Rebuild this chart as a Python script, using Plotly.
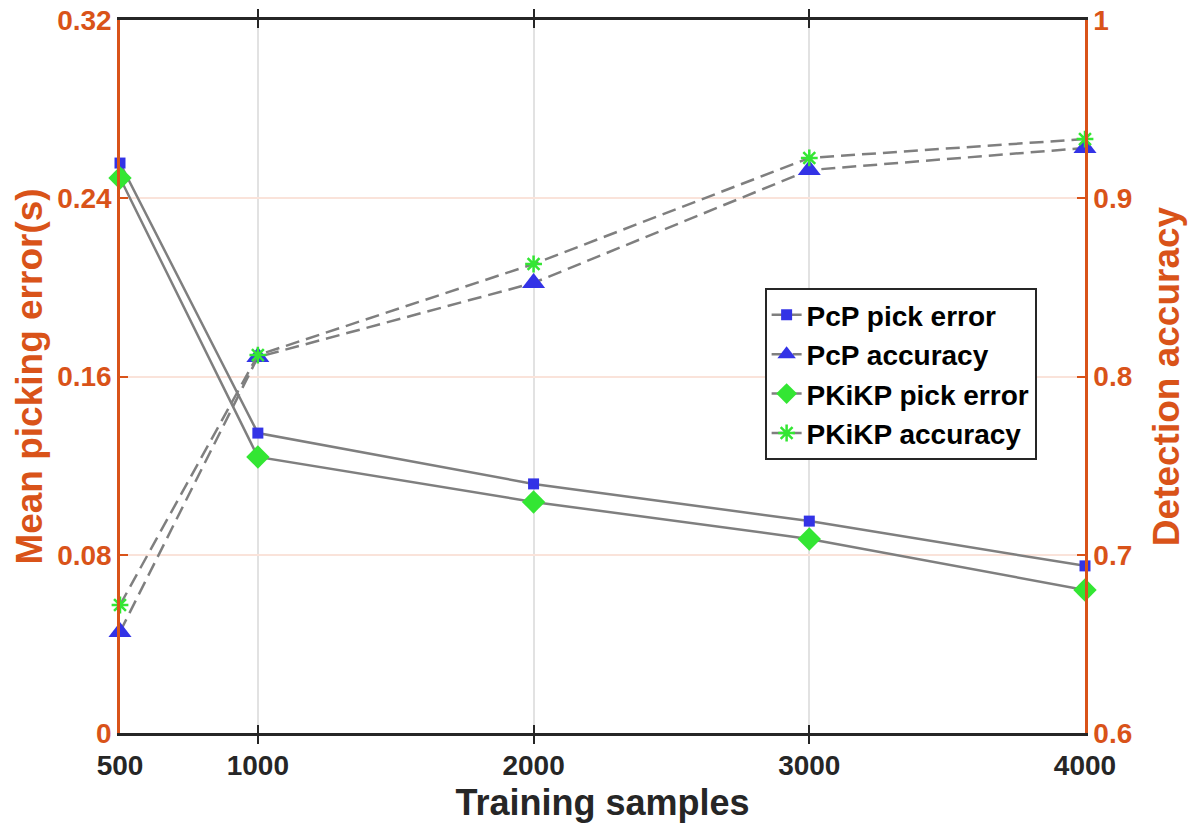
import plotly.graph_objects as go

samples = [500, 1000, 2000, 3000, 4000]
pcp_err = [0.2558, 0.1346, 0.1118, 0.0951, 0.0750]
pkikp_err = [0.2491, 0.1239, 0.1037, 0.0871, 0.0642]
pcp_acc = [0.6567, 0.8109, 0.8525, 0.9158, 0.9282]
pkikp_acc = [0.6718, 0.8120, 0.8631, 0.9226, 0.9332]

left_ticks = [0, 0.08, 0.16, 0.24, 0.32]
left_labels = ["0", "0.08", "0.16", "0.24", "0.32"]
right_ticks = [0.6, 0.7, 0.8, 0.9, 1.0]
right_labels = ["0.6", "0.7", "0.8", "0.9", "1"]

ORANGE = "#D95319"
BLUE = "#3333E6"
GREEN = "#33E633"
GRAY = "#7F7F7F"
DARK = "#262626"
FONT = "Liberation Sans, Arial, sans-serif"
DASH = "14px,7px"

fig = go.Figure()
fig.add_trace(go.Scatter(x=samples, y=pcp_err, name="PcP pick error", mode="lines+markers",
                         line=dict(color=GRAY, width=2.5),
                         marker=dict(symbol="square", size=11, color=BLUE), cliponaxis=False))
fig.add_trace(go.Scatter(x=samples, y=pcp_acc, name="PcP accuracy", mode="lines+markers", yaxis="y2",
                         line=dict(color=GRAY, width=2.5, dash=DASH),
                         marker=dict(symbol="triangle-up", size=20, color=BLUE), cliponaxis=False))
fig.add_trace(go.Scatter(x=samples, y=pkikp_err, name="PKiKP pick error", mode="lines+markers",
                         line=dict(color=GRAY, width=2.5),
                         marker=dict(symbol="diamond", size=18, color=GREEN), cliponaxis=False))
fig.add_trace(go.Scatter(x=samples, y=pkikp_acc, name="PKiKP accuracy", mode="lines+markers", yaxis="y2",
                         line=dict(color=GRAY, width=2.5, dash=DASH),
                         marker=dict(symbol="asterisk-open", size=14, color=GREEN,
                                     line=dict(color=GREEN, width=2.5)), cliponaxis=False))

fig.update_layout(
    width=1197, height=831,
    margin=dict(l=120, r=112, t=20, b=98),
    paper_bgcolor="white", plot_bgcolor="white",
    font=dict(family=FONT),
    showlegend=True,
    legend=dict(x=0.668, y=0.624, xanchor="left", yanchor="top",
                bgcolor="white", bordercolor=DARK, borderwidth=2,
                font=dict(size=28, color="black", weight="bold"),
                tracegroupgap=0, itemwidth=30),
    xaxis=dict(range=[500, 4000], tickvals=samples, ticktext=[str(s) for s in samples],
               showline=True, linecolor=DARK, linewidth=2.5, mirror="allticks",
               ticks="inside", ticklen=8, tickwidth=2, tickcolor=DARK,
               showgrid=True, gridcolor="#E2E2E2", gridwidth=2,
               zeroline=False, automargin=False, ticklabelstandoff=6,
               tickfont=dict(size=28, color=DARK, weight="bold"),
               title=dict(text="Training samples", font=dict(size=36, color=DARK, weight="bold"),
                          standoff=10)),
    yaxis=dict(range=[0, 0.32], tickvals=left_ticks, ticktext=left_labels,
               showline=True, linecolor=ORANGE, linewidth=2.5,
               ticks="inside", ticklen=8, tickwidth=2, tickcolor=ORANGE,
               showgrid=True, gridcolor="#FAE3DA", gridwidth=2, zeroline=False, automargin=False,
               tickfont=dict(size=28, color=ORANGE, weight="bold"),
               title=dict(text="Mean picking error(s)", font=dict(size=37, color=ORANGE, weight="bold"),
                          standoff=4)),
    yaxis2=dict(range=[0.6, 1.0], tickvals=right_ticks, ticktext=right_labels,
                overlaying="y", side="right",
                showline=True, linecolor=ORANGE, linewidth=2.5,
                ticks="inside", ticklen=8, tickwidth=2, tickcolor=ORANGE,
                showgrid=False, zeroline=False, automargin=False,
                tickfont=dict(size=28, color=ORANGE, weight="bold"),
                title=dict(text="Detection accuracy", font=dict(size=37, color=ORANGE, weight="bold"),
                           standoff=22)),
)

fig.write_html("out.html")
